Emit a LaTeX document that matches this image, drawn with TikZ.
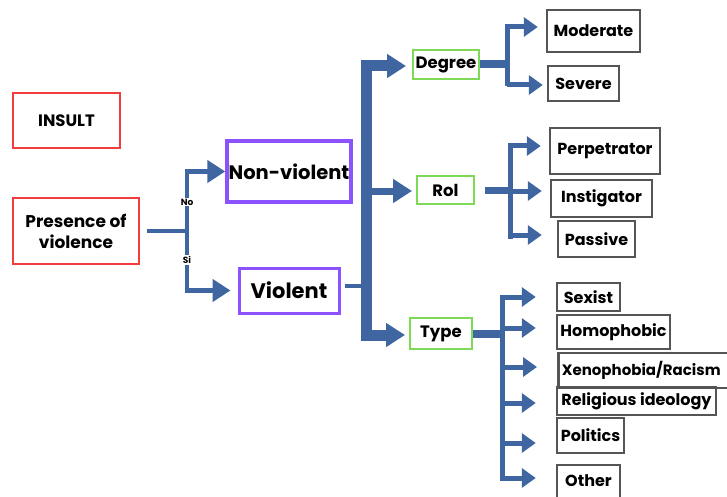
\documentclass[tikz,border=0pt]{standalone}
\usepackage{fontspec}
\setmainfont{Poppins}
\usetikzlibrary{arrows.meta}
\definecolor{flow}{RGB}{63,102,160}
\definecolor{redb}{RGB}{245,60,60}
\definecolor{purpb}{RGB}{140,82,255}
\definecolor{greenb}{RGB}{126,217,87}
\definecolor{grayb}{RGB}{85,85,85}
\tikzset{
  bx/.style={draw, rectangle, inner sep=0pt, font=\bfseries, text=black},
  redbox/.style={bx, draw=redb, line width=2.5pt, font=\bfseries\fontsize{16.5}{19}\selectfont},
  purpbox/.style={bx, draw=purpb, line width=3.5pt, font=\bfseries\fontsize{19.5}{22}\selectfont},
  greenbox/.style={bx, draw=greenb, line width=2pt, font=\bfseries\fontsize{16.5}{19}\selectfont},
  graybox/.style={bx, draw=grayb, line width=2.5pt, font=\bfseries\fontsize{16}{19}\selectfont},
  smalllab/.style={fill=white, inner sep=1pt, font=\bfseries\fontsize{9}{10}\selectfont},
  conn/.style={draw=flow, line width=4.5pt},
  trunk/.style={draw=flow, line width=11pt},
  bigtip/.style={-{Triangle[length=19pt,width=23pt]}},
  midtip/.style={-{Triangle[length=18pt,width=22pt]}},
  smtip/.style={-{Triangle[length=14pt,width=19pt]}},
}
\begin{document}
\begin{tikzpicture}[x=1pt,y=-1pt]
\useasboundingbox (0,0) rectangle (727,497);
% left
\node[redbox, minimum width=107pt, minimum height=55pt] (insult) at (66.5,120.5) {INSULT};
\node[redbox, minimum width=126pt, minimum height=66pt, align=center, font=\bfseries\fontsize{17}{21}\selectfont] (pres) at (76,231) {Presence of\\violence};
\node[purpbox, minimum width=124pt, minimum height=61pt] (nonv) at (289,171.5) {Non-violent};
\node[purpbox, line width=3pt, minimum width=100pt, minimum height=45pt, font=\bfseries\fontsize{21}{24}\selectfont] (viol) at (289,290.5) {Violent};
% middle
\node[greenbox, minimum width=66pt, minimum height=29pt] (deg) at (446,64.5) {Degree};
\node[greenbox, minimum width=57pt, minimum height=28pt] (rol) at (445.5,190) {Rol};
\node[greenbox, minimum width=62pt, minimum height=31pt] (type) at (441,333.5) {Type};
% leaves
\node[graybox, minimum width=93pt, minimum height=42pt] (mod) at (593.5,31) {Moderate};
\node[graybox, minimum width=71pt, minimum height=35pt] (sev) at (583.5,83.5) {Severe};
\node[graybox, minimum width=110pt, minimum height=46pt] (perp) at (605,151) {Perpetrator};
\node[graybox, minimum width=101pt, minimum height=37pt] (inst) at (601.5,198.5) {Instigator};
\node[graybox, minimum width=77pt, minimum height=36pt] (pass) at (596.5,239) {Passive};
\node[graybox, minimum width=63pt, minimum height=28pt] (sex) at (588.5,297) {Sexist};
\node[graybox, minimum width=113pt, minimum height=34pt] (homo) at (613.5,332) {Homophobic};
\node[graybox, anchor=west, minimum width=180pt, minimum height=35pt, font=\bfseries\fontsize{15}{18}\selectfont] (xeno) at (557,370.5) {\hspace*{-14pt}Xenophobia/Racism};
\node[graybox, minimum width=159pt, minimum height=28pt] (reli) at (636.5,401) {Religious ideology};
\node[graybox, minimum width=67pt, minimum height=35pt] (pol) at (590.5,435.5) {Politics};
\node[graybox, minimum width=63pt, minimum height=44pt] (oth) at (588.5,487) {\raisebox{13pt}{Other}};
% presence connectors
\coordinate (j1) at (187,231);
\draw[conn] (pres.east) ++(7pt,0) coordinate (p0) -- (j1);
\draw[conn, midtip] (j1) |- (nonv.west);
\draw[conn, midtip, shorten >=7pt] (j1) |- (viol.west);
\node[smalllab] (no) at (187,202) {No};
\node[smalllab] (si) at (187,260) {Si};
% trunk
\coordinate (ttop) at (366.5,66);
\coordinate (tbot) at (366.5,335);
\draw[conn, line width=4pt] (viol.east) ++(4pt,5pt) coordinate (vs) -- (vs -| ttop);
\draw[trunk] (366.5,60.5) -- (366.5,340.5);
\draw[trunk, bigtip, shorten >=6pt] (ttop) -- (ttop -| deg.west);
\draw[conn, line width=7pt, bigtip, shorten >=4pt] (366.5,191) -- (366.5,191 -| rol.west);
\draw[trunk, bigtip, shorten >=4pt] (tbot) -- (tbot -| type.west);
% degree branch
\coordinate (dj) at (507,66);
\draw[conn, line width=8pt] (deg.east) -- (deg.east -| dj);
\draw[conn, line width=5pt] (507,24.5) -- (507,86.5);
\draw[conn, line width=5pt, smtip, shorten >=8pt] (507,27) -- (507,27 -| mod.west);
\draw[conn, line width=5pt, smtip, shorten >=4pt] (507,85) -- (507,85 -| sev.west);
% rol branch
\coordinate (rj) at (510,191);
\draw[conn, line width=7pt] (rol.east) ++(10pt,0) coordinate (rs) -- (rs -| rj);
\draw[conn, line width=5pt] (510,143.5) -- (510,238.5);
\draw[conn, line width=5pt, smtip, shorten >=8pt] (510,146) -- (510,146 -| perp.west);
\draw[conn, line width=5pt, smtip, shorten >=8pt] (rj) -- (rj -| inst.west);
\draw[conn, line width=5pt, smtip, shorten >=15pt] (510,235) -- (510,235 -| pass.west);
% type branch
\coordinate (yj) at (502,333);
\draw[conn, line width=8pt] (type.east) -- (type.east -| yj);
\draw[conn, line width=5pt] (502,294.5) -- (502,480.5);
\foreach \yy/\tgt in {297/sex, 328/homo, 367/xeno, 403/reli, 443/pol, 478/oth}{
  \draw[conn, line width=5pt, smtip, shorten >=20pt] (502,\yy) -- (502,\yy -| \tgt.west);
}
\end{tikzpicture}
\end{document}
